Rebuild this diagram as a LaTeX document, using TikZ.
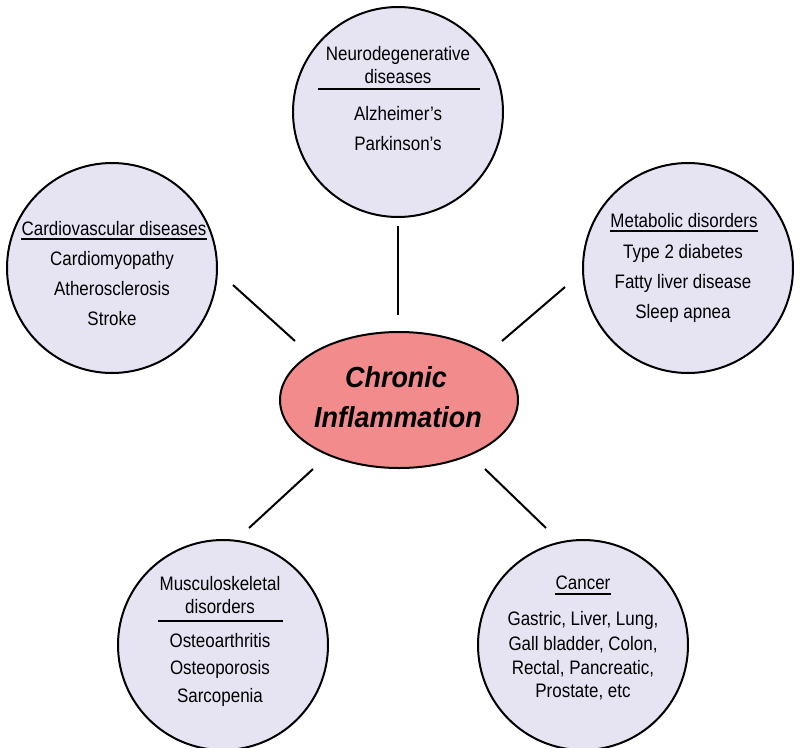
\documentclass[tikz,border=0pt]{standalone}
\usepackage{fontspec}
\setmainfont{Liberation Sans}
\newfontfamily\txtfont[FakeStretch=0.87]{Liberation Sans}
\newfontfamily\bigfont[FakeStretch=0.93]{Liberation Sans}
\usetikzlibrary{shapes.geometric}
\definecolor{circfill}{RGB}{230,228,243}
\definecolor{ellfill}{RGB}{242,140,140}
\tikzset{
  disease/.style={circle,draw=black,line width=2pt,fill=circfill,minimum size=210pt,inner sep=0pt},
  core/.style={ellipse,draw=black,line width=2pt,fill=ellfill,minimum width=238pt,minimum height=136pt,inner sep=0pt},
  txt/.style={anchor=base,inner sep=0pt,font=\txtfont\fontsize{19.5}{22}\selectfont},
  bigtxt/.style={anchor=base,inner sep=0pt,font=\bigfont\fontsize{29}{34}\selectfont\bfseries\itshape},
  conn/.style={line width=2pt,black},
  rule/.style={line width=2pt,black}
}
\begin{document}
\begin{tikzpicture}[x=1pt,y=-1pt]
\useasboundingbox (0,0) rectangle (800,747);
% circles
\node[disease] (neuro) at (398,112) {};
\node[disease] (cardio) at (112,268) {};
\node[disease] (meta) at (688,268) {};
\node[disease] (musc) at (223,645) {};
\node[disease] (canc) at (583,645) {};
\node[core] (chronic) at (399,400) {};
% central text
\node[bigtxt] (t1) at (396,387) {Chronic};
\node[bigtxt] (t2) at (398,427) {Inflammation};
% connectors
\coordinate (nA) at (398,226); \coordinate (nB) at (398,315);
\coordinate (cA) at (233,285); \coordinate (cB) at (295,341);
\coordinate (mA) at (565,287); \coordinate (mB) at (502,341);
\coordinate (sA) at (249,528); \coordinate (sB) at (313,469);
\coordinate (kA) at (546,528); \coordinate (kB) at (485,469);
\draw[conn] (nA) -- (nB);
\draw[conn] (cA) -- (cB);
\draw[conn] (mA) -- (mB);
\draw[conn] (sA) -- (sB);
\draw[conn] (kA) -- (kB);
% neuro text
\node[txt] (n1) at (398,60) {Neurodegenerative};
\node[txt] (n2) at (398,83) {diseases};
\coordinate (nr1) at (318,89); \coordinate (nr2) at (480,89);
\draw[rule] (nr1) -- (nr2);
\node[txt] (n3) at (398,120) {Alzheimer’s};
\node[txt] (n4) at (398,150) {Parkinson’s};
% cardio text
\node[txt] (c1) at (114,235) {Cardiovascular diseases};
\draw[rule] ([yshift=-3.5pt]c1.base west) -- ([yshift=-3.5pt]c1.base east);
\node[txt] (c2) at (112,265) {Cardiomyopathy};
\node[txt] (c3) at (112,295) {Atherosclerosis};
\node[txt] (c4) at (112,325) {Stroke};
% metabolic text
\node[txt] (m1) at (684,227) {Metabolic disorders};
\draw[rule] ([yshift=-3.5pt]m1.base west) -- ([yshift=-3.5pt]m1.base east);
\node[txt] (m2) at (683,258) {Type 2 diabetes};
\node[txt] (m3) at (683,288) {Fatty liver disease};
\node[txt] (m4) at (683,318) {Sleep apnea};
% musculoskeletal text
\node[txt] (s1) at (220,590) {Musculoskeletal};
\node[txt] (s2) at (220,613) {disorders};
\coordinate (sr1) at (158,621); \coordinate (sr2) at (283,621);
\draw[rule] (sr1) -- (sr2);
\node[txt] (s3) at (220,647) {Osteoarthritis};
\node[txt] (s4) at (220,674) {Osteoporosis};
\node[txt] (s5) at (220,702) {Sarcopenia};
% cancer text
\node[txt] (k1) at (583,589) {Cancer};
\draw[rule] ([yshift=-5pt]k1.base west) -- ([yshift=-5pt]k1.base east);
\node[txt] (k2) at (583,625) {Gastric, Liver, Lung,};
\node[txt] (k3) at (583,650) {Gall bladder, Colon,};
\node[txt] (k4) at (583,674) {Rectal, Pancreatic,};
\node[txt] (k5) at (583,697) {Prostate, etc};
\end{tikzpicture}
\end{document}
